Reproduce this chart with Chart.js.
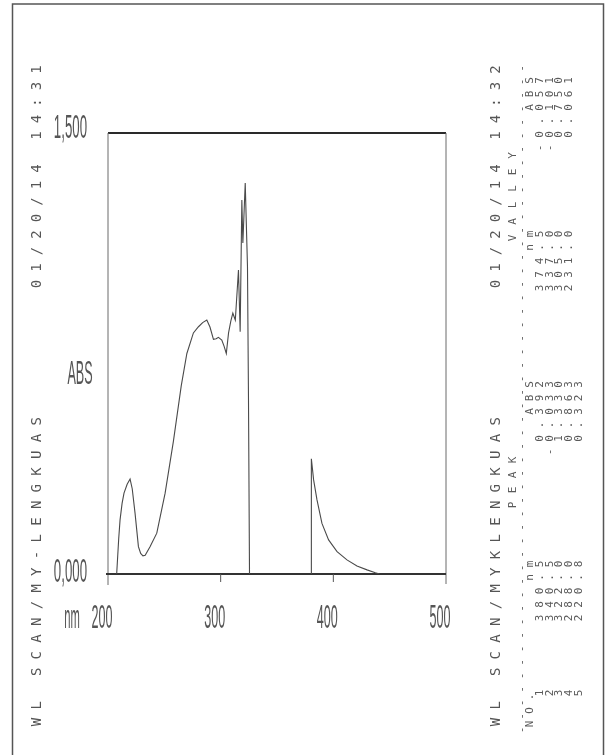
<!DOCTYPE html>
<html><head><meta charset="utf-8">
<script src="https://cdn.jsdelivr.net/npm/chart.js@4.4.0/dist/chart.umd.min.js"></script>
<style>html,body{margin:0;padding:0;background:#fff;}canvas{display:block;}</style>
</head><body>
<canvas id="c" width="608" height="755"></canvas>
<script>
// ---- spectrum data ----
const wavelengthNm = [207.7, 209.5, 210.7, 212.5, 214.2, 217.0, 219.6, 221.5, 224.0, 227.0, 229.0, 231.0, 233.0, 237.3, 243.3, 250.7, 258.0, 265.0, 270.0, 275.8, 280.3, 284.0, 287.7, 290.5, 293.6, 296.0, 298.0, 301.0, 303.0, 305.0, 307.0, 309.0, 310.8, 313.0, 315.8, 317.3, 318.8, 319.7, 321.8, 323.8, 324.7, 325.6, 327.0, 330.0, 337.0, 340.5, 355.0, 374.5, 380.2, 380.5, 382.5, 385.5, 389.9, 395.8, 403.3, 412.1, 421.0, 429.9, 437.3, 441.0];
const absorbance = [0.000, 0.120, 0.184, 0.240, 0.275, 0.305, 0.323, 0.290, 0.207, 0.093, 0.070, 0.062, 0.064, 0.093, 0.139, 0.275, 0.450, 0.640, 0.750, 0.820, 0.841, 0.855, 0.864, 0.840, 0.798, 0.800, 0.805, 0.796, 0.775, 0.750, 0.820, 0.860, 0.887, 0.864, 1.034, 0.824, 1.272, 1.126, 1.330, 1.045, 0.590, 0.000, -0.150, -0.160, -0.101, -0.033, -0.045, -0.057, -0.150, 0.392, 0.320, 0.252, 0.172, 0.116, 0.076, 0.048, 0.027, 0.014, 0.004, 0.000];

// ---- axis ticks ----
const xTickValues = [200, 300, 400, 500];
const xTickLabels = ['200', '300', '400', '500'];
const yTickValues = [1.5, 0];
const yTickLabels = ['1,500', '0,000'];

// ---- peak / valley table ----
const rowNumbers = [1, 2, 3, 4, 5];
const peakNm = [380.5, 340.5, 322.0, 288.0, 220.8];
const peakAbs = [0.392, -0.033, 1.330, 0.863, 0.323];
const valleyNm = [374.5, 337.0, 305.0, 231.0];
const valleyAbs = [-0.057, -0.101, 0.750, 0.061];

const leftTitle = 'WL SCAN/MY-LENGKUAS';
const leftDate = '01/20/14 14:31';
const rightTitle = 'WL SCAN/MYKLENGKUAS';
const rightDate = '01/20/14 14:32';

const points = wavelengthNm.map((x, i) => ({ x: x, y: absorbance[i] }));

function vchar(ctx, ch, x, y) {
  ctx.save(); ctx.translate(x, y); ctx.rotate(-Math.PI / 2); ctx.fillText(ch, 0, 0); ctx.restore();
}
function vtext(ctx, s, x, y0, adv) {
  for (let i = 0; i < s.length; i++) if (s[i] !== ' ') vchar(ctx, s[i], x, y0 - i * adv);
}
function tall(ctx, s, cx, by, sx, align) {
  ctx.save(); ctx.translate(cx, by); ctx.scale(sx, 1);
  ctx.textAlign = align || 'center'; ctx.textBaseline = 'alphabetic';
  ctx.fillText(s, 0, 0); ctx.restore();
}
function fmtAbs(v) { return (v < 0 ? '-' : ' ') + Math.abs(v).toFixed(3); }

const framePlugin = {
  id: 'frame',
  beforeDatasetsDraw(chart) {
    const ctx = chart.ctx, xs = chart.scales.x, ys = chart.scales.y;
    const xl = xs.getPixelForValue(200), xr = xs.getPixelForValue(500);
    const yt = ys.getPixelForValue(1.5), yb = ys.getPixelForValue(0);
    ctx.save();
    ctx.strokeStyle = '#555'; ctx.lineWidth = 1.5;
    ctx.beginPath(); ctx.moveTo(12.5, 755); ctx.lineTo(12.5, 4); ctx.lineTo(603.5, 4); ctx.lineTo(603.5, 755); ctx.stroke();
    ctx.strokeStyle = '#2a2a2a'; ctx.lineWidth = 2;
    ctx.beginPath(); ctx.moveTo(xl, yt); ctx.lineTo(xr, yt); ctx.stroke();
    ctx.strokeStyle = '#6a6a6a'; ctx.lineWidth = 1;
    ctx.beginPath(); ctx.moveTo(xl, yt); ctx.lineTo(xl, yb + 11); ctx.stroke();
    ctx.beginPath(); ctx.moveTo(xr, yt); ctx.lineTo(xr, yb + 10); ctx.stroke();
    ctx.strokeStyle = '#333'; ctx.lineWidth = 2;
    ctx.beginPath(); ctx.moveTo(xl - 2, yb); ctx.lineTo(xr, yb); ctx.stroke();
    ctx.strokeStyle = '#555'; ctx.lineWidth = 1;
    xTickValues.slice(1, -1).forEach(v => {
      const px = xs.getPixelForValue(v);
      ctx.beginPath(); ctx.moveTo(px, yb); ctx.lineTo(px, yb + 8); ctx.stroke();
    });
    ctx.restore();
  },
  afterDraw(chart) {
    const ctx = chart.ctx, xs = chart.scales.x, ys = chart.scales.y;
    const yt = ys.getPixelForValue(1.5), yb = ys.getPixelForValue(0);
    ctx.save();
    ctx.fillStyle = '#555';
    ctx.font = '34px "Liberation Sans"';
    xTickValues.forEach((v, i) => tall(ctx, xTickLabels[i], xs.getPixelForValue(v) - 6, yb + 54, 0.37));
    yTickValues.forEach((v, i) => tall(ctx, yTickLabels[i], 87, ys.getPixelForValue(v) + (v > 0 ? 5 : 8), 0.39, 'right'));
    tall(ctx, 'ABS', 80, (yt + yb) / 2 + 30, 0.37);
    tall(ctx, 'nm', 72, yb + 54, 0.33);

    ctx.fillStyle = '#555';
    ctx.textAlign = 'center'; ctx.textBaseline = 'middle';
    ctx.font = '14px "DejaVu Sans Mono"';
    vtext(ctx, leftTitle, 37, 722, 16.7);
    vtext(ctx, leftDate, 37, 284, 16.5);
    vtext(ctx, rightTitle, 496, 722, 16.7);
    vtext(ctx, rightDate, 496, 284, 16.5);

    // table (each printed line is a vertical column)
    ctx.fillStyle = '#5a5a5a';
    ctx.font = '11px "DejaVu Sans Mono"';
    const TA = 13.5;
    const Y_NO = 724, Y_ROW = 693, Y_PNM = 618, Y_PABS = 452, Y_VNM = 288, Y_VABS = 148;
    vtext(ctx, 'PEAK', 513, 505, 15);
    vtext(ctx, 'VALLEY', 513, 238, 16.5);
    vtext(ctx, '-'.repeat(50), 522, 730, TA);
    const hx = 530;
    vtext(ctx, 'NO.', hx, Y_NO, TA);
    vtext(ctx, 'nm', hx, Y_PNM - 3 * TA, TA);
    vtext(ctx, 'ABS', hx, Y_PABS - 3 * TA, TA);
    vtext(ctx, 'nm', hx, Y_VNM - 3 * TA, TA);
    vtext(ctx, 'ABS', hx, Y_VABS - 3 * TA, TA);
    rowNumbers.forEach((n, r) => {
      const x = 540 + r * 9.8;
      vtext(ctx, String(n), x, Y_ROW, TA);
      vtext(ctx, peakNm[r].toFixed(1), x, Y_PNM, TA);
      vtext(ctx, fmtAbs(peakAbs[r]), x, Y_PABS, TA);
      if (r < valleyNm.length) {
        vtext(ctx, valleyNm[r].toFixed(1), x, Y_VNM, TA);
        vtext(ctx, fmtAbs(valleyAbs[r]), x, Y_VABS, TA);
      }
    });
    ctx.restore();
  }
};

new Chart(document.getElementById('c'), {
  type: 'scatter',
  data: { datasets: [{ data: points, showLine: true, borderColor: '#4a4a4a', borderWidth: 1.1, pointRadius: 0, tension: 0, fill: false }] },
  options: {
    responsive: false, animation: false, devicePixelRatio: 1,
    layout: { padding: { left: 108, right: 162, top: 133, bottom: 181 } },
    scales: {
      x: { type: 'linear', min: 200, max: 500, display: false },
      y: { type: 'linear', min: 0, max: 1.5, display: false }
    },
    plugins: { legend: { display: false }, tooltip: { enabled: false } }
  },
  plugins: [framePlugin]
});
</script>
</body></html>
